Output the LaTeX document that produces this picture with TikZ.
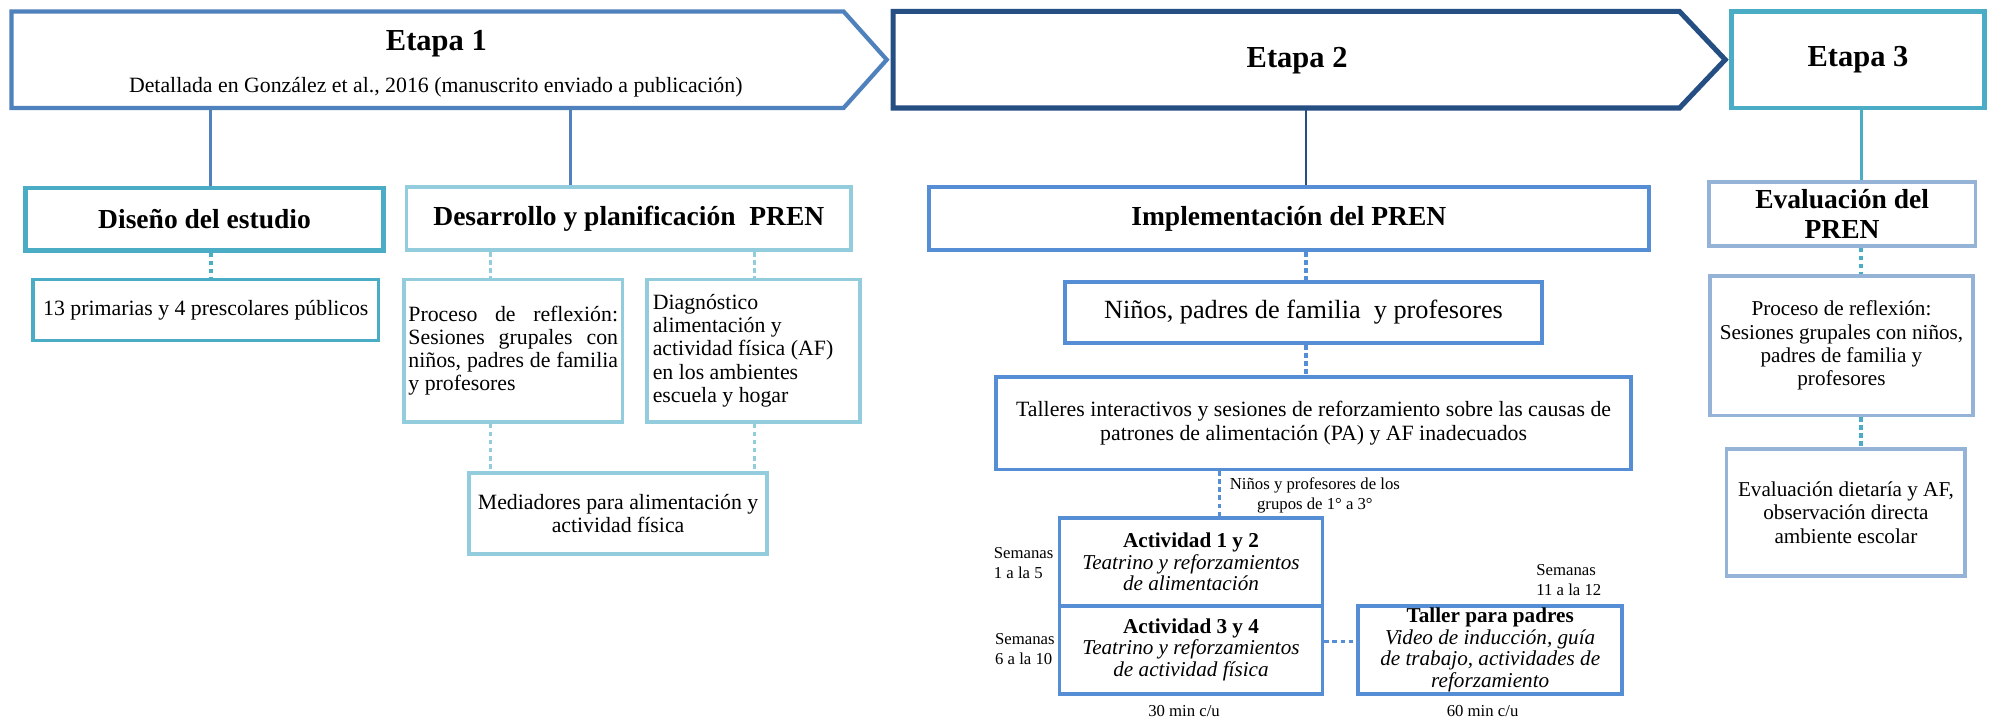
\documentclass[tikz,border=0pt]{standalone}
\usepackage{fontspec}
\setmainfont{Liberation Serif}
\usetikzlibrary{calc}
\definecolor{eonecol}{HTML}{4F81BD}
\definecolor{etwocol}{HTML}{254E83}
\definecolor{tealcol}{HTML}{4BACC6}
\definecolor{lightcol}{HTML}{93CDDD}
\definecolor{midcol}{HTML}{558ED5}
\definecolor{palecol}{HTML}{95B3D7}
\begin{document}
\begin{tikzpicture}[x=0.6pt,y=-0.6pt,
  boxsize/.style 2 args={minimum width=#1*0.6pt, minimum height=#2*0.6pt},
  box/.style={draw, fill=white, line width=1.8pt, inner sep=1pt, align=center, text=black},
  body/.style={font=\fontsize{10.3}{11}\selectfont},
  head/.style={font=\fontsize{13}{12}\selectfont\bfseries},
  etapa/.style={font=\fontsize{14.4}{16}\selectfont\bfseries},
  small/.style={font=\fontsize{7.9}{9.4}\selectfont, inner sep=0pt},
  act/.style={font=\fontsize{10}{10.2}\selectfont},
  conn/.style={line width=1.4pt},
  dots/.style={line width=1.6pt, dash pattern=on 2.2pt off 1.6pt},
  shell/.style={inner sep=0pt, outer sep=0pt, anchor=north west}
]
\useasboundingbox (0,0) rectangle (1568,568);

% ---------- Etapa arrows ----------
\node[shell, boxsize={655}{76}] (e1) at (9,9) {};
\draw[eonecol, line width=2pt, fill=white] (e1.north west) -- (e1.north east) -- ($(e1.east)+(34,0)$) -- (e1.south east) -- (e1.south west) -- cycle;
\node[etapa] (e1t) at (343.5,34) {Etapa 1};
\node[body] (e1s) at (343,69) {Detallada en González et al., 2016 (manuscrito enviado a publicación)};

\node[shell, boxsize={619}{76}] (e2) at (703,9) {};
\draw[etwocol, line width=2.4pt, fill=white] (e2.north west) -- (e2.north east) -- ($(e2.east)+(36,0)$) -- (e2.south east) -- (e2.south west) -- cycle;
\node[etapa] (e2t) at (1021,48) {Etapa 2};

\node[shell, draw=tealcol, line width=2pt, fill=white, boxsize={199}{76}, etapa] (e3) at (1363,9) {Etapa 3};

% ---------- Etapa 1 boxes ----------
\node[box, draw=tealcol, line width=2.2pt, head, boxsize={282}{49}] (diseno) at (161,172.5) {Diseño del estudio};
\node[box, draw=lightcol, head, boxsize={350}{50}] (desarrollo) at (495,172) {Desarrollo y planificación\ \ PREN};
\node[box, draw=tealcol, body, boxsize={272}{48}] (primarias) at (162,244) {13 primarias y 4 prescolares públicos};
\node[box, draw=lightcol, body, boxsize={172}{112}] (proc1) at (404,276)
  {\makebox[99pt][s]{Proceso de reflexión:}\\\makebox[99pt][s]{Sesiones grupales con}\\\makebox[99pt][s]{niños, padres de familia}\\\makebox[99pt][l]{y profesores}};
\node[box, draw=lightcol, body, boxsize={168}{112}] (diag) at (593,276)
  {\makebox[95pt][l]{Diagnóstico}\\\makebox[95pt][l]{alimentación y}\\\makebox[95pt][l]{actividad física (AF)}\\\makebox[95pt][l]{en los ambientes}\\\makebox[95pt][l]{escuela y hogar}};
\node[box, draw=lightcol, body, boxsize={235}{64}] (mediad) at (486.5,404) {Mediadores para alimentación y\\actividad física};

% ---------- Etapa 2 boxes ----------
\node[box, draw=midcol, head, boxsize={567}{50}] (impl) at (1014.5,172) {Implementación del PREN};
\node[box, draw=midcol, font=\fontsize{12.4}{13}\selectfont, boxsize={376}{48}] (ninos) at (1026,246) {Niños, padres de familia\ \ y profesores};
\node[box, draw=midcol, body, boxsize={500}{73}] (talleres) at (1034,333) {Talleres interactivos y sesiones de reforzamiento sobre las causas de\\patrones de alimentación (PA) y AF inadecuados};
\node[box, draw=midcol, act, boxsize={207}{69}] (act12) at (937.5,442.5) {\textbf{Actividad 1 y 2}\\\textit{Teatrino y reforzamientos}\\\textit{de alimentación}};
\node[box, draw=midcol, act, boxsize={207}{69}] (act34) at (937.5,511.5) {\textbf{Actividad 3 y 4}\\\textit{Teatrino y reforzamientos}\\\textit{de actividad física}};
\node[box, draw=midcol, act, boxsize={208}{69}] (taller) at (1173,511.5) {\textbf{Taller para padres}\\\textit{Video de inducción, guía}\\\textit{de trabajo, actividades de}\\\textit{reforzamiento}};

\node[small, align=center] (grupos) at (1035,390) {Niños y profesores de los\\grupos de 1° a 3°};
\node[small, align=left, anchor=west] (sem1) at (782,443) {Semanas\\1 a la 5};
\node[small, align=left, anchor=west] (sem2) at (783,511) {Semanas\\6 a la 10};
\node[small, align=left, anchor=west] (sem3) at (1209,456.5) {Semanas\\11 a la 12};
\node[small] (min30) at (932,560) {30 min c/u};
\node[small] (min60) at (1167,560) {60 min c/u};

% ---------- Etapa 3 boxes ----------
\node[box, draw=palecol, font=\fontsize{13}{14.2}\selectfont\bfseries, boxsize={210}{50}] (evalp) at (1450,168.5) {Evaluación del\\PREN};
\node[box, draw=palecol, font=\fontsize{10}{11}\selectfont, boxsize={207}{110}] (proc3) at (1449.5,272) {Proceso de reflexión:\\Sesiones grupales con niños,\\padres de familia y\\profesores};
\node[box, draw=palecol, font=\fontsize{10}{11}\selectfont, boxsize={188}{100}] (dieta) at (1453,403.5) {Evaluación dietaría y AF,\\observación directa\\ambiente escolar};

% ---------- connectors ----------
\coordinate (k1) at (166,0);
\coordinate (k2) at (449,0);
\coordinate (k3) at (386,0);
\coordinate (k4) at (594,0);
\coordinate (k5) at (1028,0);
\coordinate (k6) at (960,0);
\coordinate (k7) at (1465,0);
\coordinate (k8) at (0,505);

\draw[conn, eonecol] (e1.south -| k1) -- (diseno.north -| k1);
\draw[conn, eonecol] (e1.south -| k2) -- (desarrollo.north -| k2);
\draw[dots, tealcol] (diseno.south -| k1) -- (primarias.north -| k1);
\draw[dots, lightcol] (desarrollo.south -| k3) -- (proc1.north -| k3);
\draw[dots, lightcol] (desarrollo.south -| k4) -- (diag.north -| k4);
\draw[dots, lightcol] (proc1.south -| k3) -- (mediad.north -| k3);
\draw[dots, lightcol] (diag.south -| k4) -- (mediad.north -| k4);

\draw[conn, etwocol] (e2.south -| k5) -- (impl.north -| k5);
\draw[dots, midcol] (impl.south -| k5) -- (ninos.north -| k5);
\draw[dots, midcol] (ninos.south -| k5) -- (talleres.north -| k5);
\draw[dots, midcol] (talleres.south -| k6) -- (act12.north -| k6);
\draw[dots, midcol] (act34.east |- k8) -- (taller.west |- k8);

\draw[conn, tealcol] (e3.south -| k7) -- (evalp.north -| k7);
\draw[dots, tealcol] (evalp.south -| k7) -- (proc3.north -| k7);
\draw[dots, tealcol] (proc3.south -| k7) -- (dieta.north -| k7);
\end{tikzpicture}
\end{document}
